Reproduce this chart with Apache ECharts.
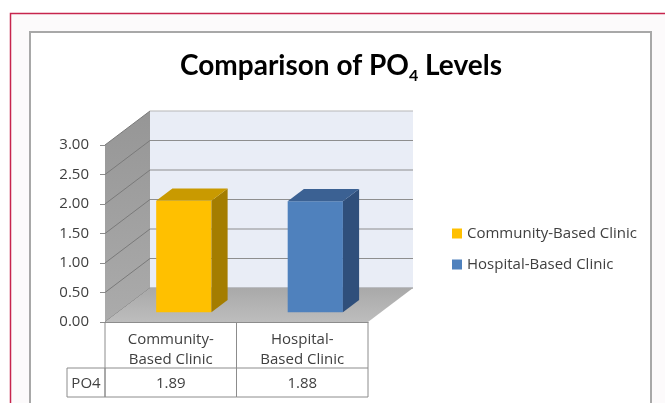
<!doctype html>
<html>
<head>
<meta charset="utf-8">
<title>Comparison of PO4 Levels</title>
<script src="https://cdn.jsdelivr.net/npm/echarts@6/dist/echarts.min.js"></script>
<style>
  html, body { margin: 0; padding: 0; background: #fff; }
  #chart { width: 665px; height: 403px; }
</style>
</head>
<body>
<div id="chart"></div>
<script>
// data
var categories = ['Community-Based Clinic', 'Hospital-Based Clinic'];
var po4Values = [1.89, 1.88];
var rowLabel = 'PO4';
var yTicks = [0, 0.5, 1, 1.5, 2, 2.5, 3];

// looks
var barColors = [
  { front: '#ffc000', top: '#c99a00', side: '#a47d00' },
  { front: '#4f81bd', top: '#3b6193', side: '#2f4f7b' }
];
var DX = 45, DY = -34;       // depth of the 3d box
var FONT = '"Open Sans", sans-serif';
var TXT = '#404040';
var LINE = '#8c8c8c';

var chart = echarts.init(document.getElementById('chart'));

// walls + floor of the 3d box, drawn from the axis scale
function renderWalls(params, api) {
  var bw = api.size([1, 0])[0];
  var l = api.coord([0, 0])[0] - bw / 2;
  var r = api.coord([categories.length - 1, 0])[0] + bw / 2;
  var y0 = api.coord([0, 0])[1];
  var yTop = api.coord([0, yTicks[yTicks.length - 1]])[1];
  var kids = [];
  kids.push({
    type: 'rect',
    shape: { x: l + DX, y: yTop + DY, width: r - l, height: y0 - yTop },
    style: { fill: '#e9edf6' }
  });
  kids.push({
    type: 'polygon',
    shape: { points: [[l, y0], [l, yTop], [l + DX, yTop + DY], [l + DX, y0 + DY]] },
    style: {
      fill: new echarts.graphic.LinearGradient(0, 0, 0, 1, [
        { offset: 0, color: '#969696' }, { offset: 1, color: '#ababab' }
      ])
    }
  });
  yTicks.forEach(function (t) {
    var y = api.coord([0, t])[1];
    kids.push({
      type: 'line',
      shape: { x1: l + DX, y1: y + DY, x2: r + DX, y2: y + DY },
      style: { stroke: t === 3 ? '#b8b8b8' : '#8e8e8e', lineWidth: 1.2 }
    });
    kids.push({
      type: 'line',
      shape: { x1: l, y1: y, x2: l + DX, y2: y + DY },
      style: { stroke: '#7a7a7a', lineWidth: 1 }
    });
  });
  kids.push({
    type: 'polygon',
    shape: { points: [[l, y0], [r, y0], [r + DX, y0 + DY], [l + DX, y0 + DY]] },
    style: {
      fill: new echarts.graphic.LinearGradient(0, 0, 0, 1, [
        { offset: 0, color: '#a9a9a9' }, { offset: 1, color: '#bdbdbd' }
      ])
    }
  });
  return { type: 'group', children: kids };
}

function makeBarRender(ci) {
  return function (params, api) {
    var c = barColors[ci];
    var i = api.value(0), v = api.value(1);
    var bw = api.size([1, 0])[0];
    var base = api.coord([i, 0]), top = api.coord([i, v]);
    var w = bw * 0.42, f = 0.29, d = 0.36;
    var x0 = base[0] + DX * f - w / 2, x1 = x0 + w;
    var yb = base[1] + DY * f, yt = top[1] + DY * f;
    var ox = DX * d, oy = DY * d;
    return {
      type: 'group',
      children: [
        { type: 'rect', shape: { x: x0, y: yt, width: w, height: yb - yt }, style: { fill: c.front } },
        { type: 'polygon', shape: { points: [[x1, yb], [x1, yt], [x1 + ox, yt + oy], [x1 + ox, yb + oy]] }, style: { fill: c.side } },
        { type: 'polygon', shape: { points: [[x0, yt], [x1, yt], [x1 + ox, yt + oy], [x0 + ox, yt + oy]] }, style: { fill: c.top } }
      ]
    };
  };
}

// data table under the axis: cell borders + value row
function renderTable(params, api) {
  var i = api.value(0), v = api.value(1);
  var bw = api.size([1, 0])[0];
  var base = api.coord([i, 0]);
  var l = base[0] - bw / 2, r = base[0] + bw / 2;
  var yRow = base[1] + 46, yEnd = base[1] + 75;
  var st = { stroke: LINE, lineWidth: 1 };
  var kids = [
    { type: 'line', shape: { x1: l, y1: base[1], x2: l, y2: yEnd }, style: st },
    { type: 'line', shape: { x1: r, y1: base[1], x2: r, y2: yEnd }, style: st },
    { type: 'line', shape: { x1: l, y1: yRow, x2: r, y2: yRow }, style: st },
    { type: 'line', shape: { x1: l, y1: yEnd, x2: r, y2: yEnd }, style: st },
    {
      type: 'text',
      style: {
        text: v.toFixed(2), x: base[0], y: (yRow + yEnd) / 2 + 1,
        align: 'center', verticalAlign: 'middle', fill: TXT, font: '15px ' + FONT
      }
    }
  ];
  if (i === 0) {
    kids.push({ type: 'rect', shape: { x: l - 38, y: yRow, width: 38, height: yEnd - yRow }, style: { fill: 'none', stroke: LINE, lineWidth: 1 } });
    kids.push({
      type: 'text',
      style: {
        text: rowLabel, x: l - 19, y: (yRow + yEnd) / 2 + 1,
        align: 'center', verticalAlign: 'middle', fill: TXT, font: '15px ' + FONT
      }
    });
  }
  return { type: 'group', children: kids };
}

var option = {
  backgroundColor: '#fff',
  animation: false,
  graphic: [
    { type: 'rect', z: -10, shape: { x: 10.5, y: 13.5, width: 700, height: 500 },
      style: { fill: '#fcfafb', stroke: '#c7254e', lineWidth: 1.5 } },
    { type: 'rect', z: -9, shape: { x: 30, y: 32, width: 621, height: 500 },
      style: { fill: '#ffffff', stroke: '#a8a8a8', lineWidth: 2 } }
  ],
  title: {
    text: '{a|Comparison of PO}{s|4}{a| Levels}',
    left: 175,
    top: 43,
    textStyle: {
      rich: {
        a: { fontFamily: 'Lato, sans-serif', fontWeight: 'bold', fontSize: 28, color: '#000', lineHeight: 36 },
        s: { fontFamily: 'Lato, sans-serif', fontWeight: 'bold', fontSize: 16, color: '#000', verticalAlign: 'bottom' }
      }
    }
  },
  legend: {
    left: 447,
    top: 221,
    orient: 'vertical',
    icon: 'rect',
    itemWidth: 10,
    itemHeight: 10,
    itemGap: 16,
    data: categories,
    textStyle: { fontFamily: FONT, fontSize: 15, color: TXT }
  },
  grid: { left: 105, right: 297, top: 145, bottom: 81 },
  xAxis: {
    type: 'category',
    data: categories,
    axisLine: { lineStyle: { color: LINE } },
    axisTick: { show: false },
    axisLabel: {
      formatter: function (s) { return s.replace('-', '-\n'); },
      margin: 8, lineHeight: 20, fontSize: 15, color: TXT, fontFamily: FONT
    }
  },
  yAxis: {
    type: 'value',
    min: 0, max: 3, interval: 0.5,
    axisLine: { show: true, lineStyle: { color: LINE } },
    axisTick: { show: true, length: 5, lineStyle: { color: LINE } },
    splitLine: { show: false },
    axisLabel: {
      formatter: function (v) { return v.toFixed(2); },
      margin: 16, fontSize: 15, color: TXT, fontFamily: FONT
    }
  },
  series: [
    { type: 'custom', name: 'walls', z: 1, silent: true, renderItem: renderWalls, data: [[0, 0]] },
    { type: 'custom', name: categories[0], z: 3, renderItem: makeBarRender(0),
      itemStyle: { color: barColors[0].front }, encode: { x: 0, y: 1 }, data: [[0, po4Values[0]]] },
    { type: 'custom', name: categories[1], z: 3, renderItem: makeBarRender(1),
      itemStyle: { color: barColors[1].front }, encode: { x: 0, y: 1 }, data: [[1, po4Values[1]]] },
    { type: 'custom', name: 'table', z: 3, silent: true, renderItem: renderTable,
      data: po4Values.map(function (v, i) { return [i, v]; }) }
  ]
};
chart.setOption(option);
</script>
</body>
</html>
